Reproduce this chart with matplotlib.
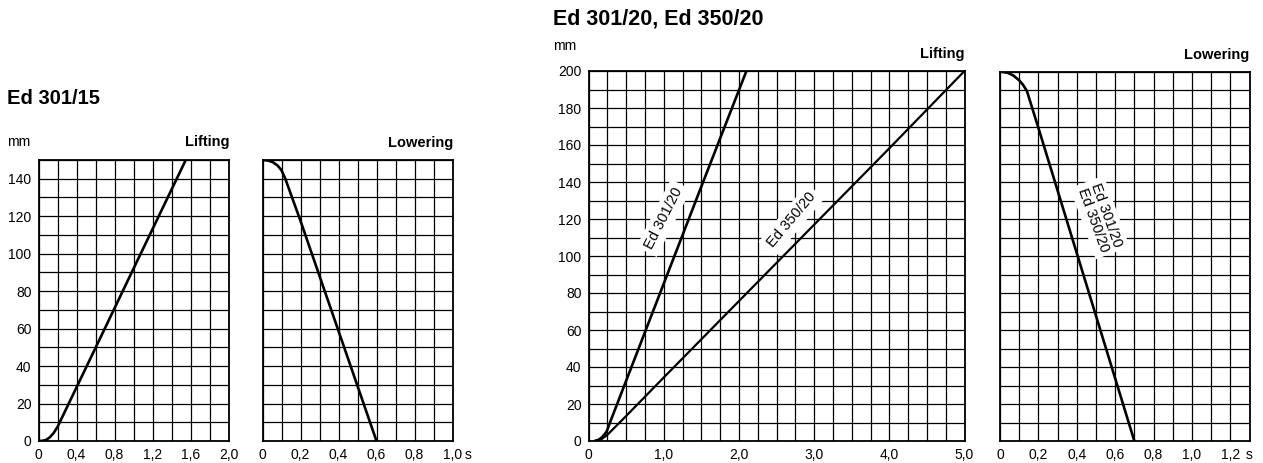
import numpy as np
import matplotlib
matplotlib.use('Agg')
import matplotlib.pyplot as plt

plt.rcParams['font.family'] = ['Liberation Sans', 'DejaVu Sans']

W, H = 1263, 463

# Ed 301/15 lifting (t in s, stroke in mm)
lift15_t = [0, 0.04, 0.08, 0.12, 0.16, 0.2, 0.6, 1.0, 1.55]
lift15_h = [0, 0.1, 0.6, 2.0, 4.3, 7.5, 49.7, 92, 150]

# Ed 301/15 lowering
low15_t = [0, 0.03, 0.055, 0.08, 0.1, 0.12, 0.2, 0.6]
low15_h = [150, 149.7, 148.8, 147, 144.5, 140, 117.5, 0]

# Ed 301/20 lifting
lift301_t = [0.08, 0.13, 0.18, 0.24, 0.3, 0.5, 1.0, 1.5, 2.1]
lift301_h = [0, 0.6, 2.0, 5.0, 11.5, 32.5, 85, 137.5, 200]

# Ed 350/20 lifting
lift350_t = [0.08, 0.13, 0.18, 0.25, 0.5, 1.0, 2.0, 3.0, 4.0, 5.0]
lift350_h = [0, 0.4, 1.2, 3.3, 13.5, 34.3, 75.6, 116.9, 158.2, 200]

# Ed 301/20, Ed 350/20 lowering
low20_t = [0, 0.04, 0.07, 0.1, 0.12, 0.14, 0.2, 0.7]
low20_h = [200, 199.3, 197.8, 195.2, 192.8, 189.5, 169.5, 0]

# tick labels
x15_lift_ticks = [0, 0.4, 0.8, 1.2, 1.6, 2.0]
x15_low_ticks = [0, 0.2, 0.4, 0.6, 0.8, 1.0]
x20_lift_ticks = [0, 1.0, 2.0, 3.0, 4.0, 5.0]
x20_low_ticks = [0, 0.2, 0.4, 0.6, 0.8, 1.0, 1.2]
y15_ticks = [0, 20, 40, 60, 80, 100, 120, 140]
y20_ticks = [0, 20, 40, 60, 80, 100, 120, 140, 160, 180, 200]


def fmt(v):
    return '0' if v == 0 else f'{v:.1f}'.replace('.', ',')


def make_ax(fig, left, right, top, bottom):
    return fig.add_axes([left / W, 1 - bottom / H, (right - left) / W, (bottom - top) / H])


def style(ax, xmax, ymax, xstep, ystep, xticks, yticks):
    ax.set_xlim(0, xmax)
    ax.set_ylim(0, ymax)
    ax.set_xticks(xticks)
    ax.set_xticklabels([fmt(v) for v in xticks])
    ax.set_xticks(np.arange(0, xmax + 1e-9, xstep), minor=True)
    ax.set_yticks(np.arange(0, ymax + 1e-9, ystep), minor=True)
    if yticks:
        ax.set_yticks(yticks)
        ax.set_yticklabels([str(v) for v in yticks])
    else:
        ax.set_yticks([])
    ax.grid(True, which='both', color='black', lw=0.9)
    ax.set_axisbelow(True)
    ax.tick_params(which='both', length=0, labelsize=10, pad=5, colors='black')
    for s in ax.spines.values():
        s.set_linewidth(1.3)
        s.set_color('black')


def pix_text(fig, x, y, s, **kw):
    fig.text(x / W, 1 - y / H, s, **kw)


fig = plt.figure(figsize=(W / 100, H / 100), dpi=100)

# Ed 301/15
ax1 = make_ax(fig, 38.5, 228.5, 160, 441)
style(ax1, 2.0, 150, 0.2, 10, x15_lift_ticks, y15_ticks)
ax1.plot(lift15_t, lift15_h, color='black', lw=1.9, zorder=4, solid_capstyle='butt')

ax2 = make_ax(fig, 262.5, 452.5, 160, 441)
style(ax2, 1.0, 150, 0.1, 10, x15_low_ticks, None)
ax2.plot(low15_t, low15_h, color='black', lw=1.9, zorder=4, solid_capstyle='butt')

# Ed 301/20, Ed 350/20
ax3 = make_ax(fig, 588.5, 964.5, 71, 441)
style(ax3, 5.0, 200, 0.25, 10, x20_lift_ticks, y20_ticks)
ax3.plot(lift301_t, lift301_h, color='black', lw=1.9, zorder=4, solid_capstyle='butt')
ax3.plot(lift350_t, lift350_h, color='black', lw=1.6, zorder=4, solid_capstyle='butt')
box = dict(boxstyle='square,pad=0.3', fc='white', ec='none')
ax3.text(1.0, 120.5, 'Ed 301/20', rotation=63, rotation_mode='anchor', ha='center', va='center',
         fontsize=10.5, bbox=box, zorder=3)
ax3.text(2.7, 119.4, 'Ed 350/20', rotation=50, rotation_mode='anchor', ha='center', va='center',
         fontsize=10.5, bbox=box, zorder=3)

ax4 = make_ax(fig, 1000, 1249.5, 71.5, 441)
style(ax4, 1.3, 200, 0.1, 10, x20_low_ticks, None)
ax4.plot(low20_t, low20_h, color='black', lw=1.9, zorder=4, solid_capstyle='butt')
ax4.text(0.52, 121, 'Ed 301/20\nEd 350/20', rotation=-70, rotation_mode='anchor', ha='center',
         va='center', fontsize=10.5, linespacing=0.95, bbox=box, zorder=3)

# unit "s" at the end of the lowering time axes
ax2.annotate('s', xy=(1.0, 0), xycoords='axes fraction', xytext=(16, -7), textcoords='offset pixels',
             ha='center', va='top', fontsize=10)
ax4.annotate('s', xy=(1.0, 0), xycoords='axes fraction', xytext=(0, -7), textcoords='offset pixels',
             ha='center', va='top', fontsize=10)

# headings and labels
pix_text(fig, 7, 104, 'Ed 301/15', fontsize=14.5, fontweight='bold', va='baseline')
pix_text(fig, 553, 24, 'Ed 301/20, Ed 350/20', fontsize=15.5, fontweight='bold', va='baseline')
pix_text(fig, 7, 146.5, 'mm', fontsize=10, va='baseline')
pix_text(fig, 553, 50.5, 'mm', fontsize=10, va='baseline')
pix_text(fig, 229, 146.5, 'Lifting', fontsize=10.5, fontweight='bold', va='baseline', ha='right')
pix_text(fig, 453, 147, 'Lowering', fontsize=10.5, fontweight='bold', va='baseline', ha='right')
pix_text(fig, 964.5, 58, 'Lifting', fontsize=10.5, fontweight='bold', va='baseline', ha='right')
pix_text(fig, 1249.5, 59, 'Lowering', fontsize=10.5, fontweight='bold', va='baseline', ha='right')

fig.savefig('out.png', dpi=100)
